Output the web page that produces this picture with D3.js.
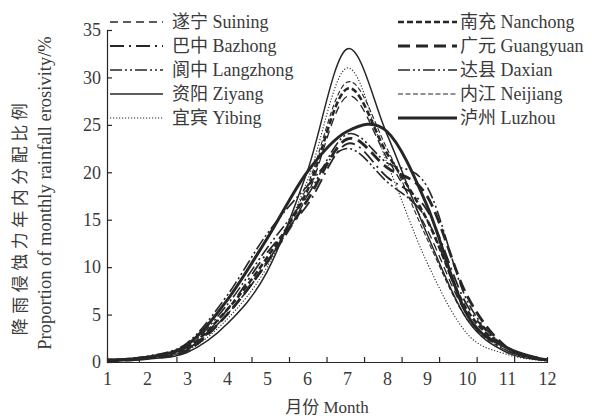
<!DOCTYPE html>
<html>
<head>
<meta charset="utf-8">
<script src="https://cdn.jsdelivr.net/npm/d3@7"></script>
<style>
  body { margin: 0; background: #fff; }
  text { font-family: "Liberation Serif", "Noto Sans CJK SC", serif; fill: #3a3a3a; }
</style>
</head>
<body>
<div id="chart"></div>
<script>
// monthly share of annual rainfall erosivity (%)
var months = [1, 2, 3, 4, 5, 6, 7, 8, 9, 10, 11, 12];
var yTicks = [0, 5, 10, 15, 20, 25, 30, 35];

var suining   = [0.2, 0.5, 1.5, 5.0, 10.5, 17.5, 28.0, 21.5, 14.0, 5.0, 1.5, 0.3];
var bazhong   = [0.1, 0.4, 1.3, 5.5, 11.5, 16.5, 23.0, 19.5, 16.0, 6.0, 1.5, 0.2];
var langzhong = [0.2, 0.6, 2.0, 7.0, 13.5, 18.5, 22.5, 19.0, 15.0, 5.0, 1.2, 0.2];
var ziyang    = [0.1, 0.3, 1.0, 4.0, 9.5, 20.0, 33.0, 24.0, 13.5, 4.5, 1.0, 0.2];
var yibing    = [0.1, 0.4, 1.2, 4.5, 10.0, 19.0, 31.0, 21.0, 10.5, 3.0, 0.8, 0.1];
var nanchong  = [0.2, 0.5, 1.5, 5.5, 11.0, 18.0, 28.8, 22.0, 15.0, 5.5, 1.5, 0.2];
var guangyuan = [0.1, 0.4, 1.2, 5.0, 10.5, 17.0, 23.5, 20.5, 17.5, 7.0, 1.5, 0.2];
var daxian    = [0.2, 0.5, 1.6, 6.0, 12.0, 17.5, 24.0, 21.0, 18.5, 6.5, 1.5, 0.2];
var neijiang  = [0.1, 0.4, 1.3, 5.0, 10.5, 18.5, 29.5, 22.5, 13.0, 4.5, 1.2, 0.2];
var luzhou    = [0.2, 0.5, 1.8, 6.5, 13.0, 20.0, 24.3, 24.3, 16.5, 5.0, 1.5, 0.2];

var stations = [
    { zh: '遂宁', en: 'Suining',   values: suining,   width: 1.3, dash: '8,5' },
    { zh: '巴中', en: 'Bazhong',   values: bazhong,   width: 1.8, dash: '14,5,2,5' },
    { zh: '阆中', en: 'Langzhong', values: langzhong, width: 1.6, dash: '12,3,2,3,2,3' },
    { zh: '资阳', en: 'Ziyang',    values: ziyang,    width: 1.5, dash: null },
    { zh: '宜宾', en: 'Yibing',    values: yibing,    width: 1.1, dash: '1.2,1.8' },
    { zh: '南充', en: 'Nanchong',  values: nanchong,  width: 2.6, dash: '6,3' },
    { zh: '广元', en: 'Guangyuan', values: guangyuan, width: 2.8, dash: '12,6' },
    { zh: '达县', en: 'Daxian',    values: daxian,    width: 1.6, dash: '12,3,2,3,2,3' },
    { zh: '内江', en: 'Neijiang',  values: neijiang,  width: 1.1, dash: '5,2.5' },
    { zh: '泸州', en: 'Luzhou',    values: luzhou,    width: 3.0, dash: null }
];

var width = 592, height = 419;
var svg = d3.select('#chart').append('svg')
    .attr('width', width).attr('height', height);

// scales
var x = d3.scaleLinear().domain([1, 12]).range([107, 547]);
var y = d3.scaleLinear().domain([0, 35]).range([362, 30]);
var xLine = x.copy().domain([x.invert(93), x.invert(562)]);

var ink = '#262626';

// x axis: ticks between months, labels on months
var halfMonths = months.slice(0, 11).map(function(m) { return m + 0.5; });
var gx = svg.append('g').attr('transform', 'translate(0,' + y(0) + ')')
    .call(d3.axisBottom(xLine).tickValues(halfMonths)
        .tickSizeInner(-5).tickSizeOuter(-5).tickFormat(''));
gx.selectAll('path, line').attr('stroke', ink).attr('stroke-width', 1.2);

var gxl = svg.append('g').attr('transform', 'translate(0,' + y(0) + ')')
    .call(d3.axisBottom(x).tickValues(months).tickSize(0).tickPadding(10));
gxl.select('.domain').remove();
gxl.selectAll('text').style('font-size', '18px')
    .style('font-family', '"Liberation Serif", serif').attr('fill', '#3a3a3a');

// y axis
var gy = svg.append('g').attr('transform', 'translate(' + xLine.range()[0] + ',0)')
    .call(d3.axisLeft(y).tickValues(yTicks)
        .tickSizeInner(-5).tickSizeOuter(-5).tickPadding(6));
gy.selectAll('path, line').attr('stroke', ink).attr('stroke-width', 1.2);
gy.selectAll('text').style('font-size', '18px')
    .style('font-family', '"Liberation Serif", serif').attr('fill', '#3a3a3a');

// axis titles
svg.append('text').attr('x', 327).attr('y', 413)
    .attr('text-anchor', 'middle').style('font-size', '17px')
    .text('月份 Month');

svg.append('text')
    .attr('transform', 'translate(26,217) rotate(-90)')
    .attr('text-anchor', 'middle').style('font-size', '17px')
    .style('letter-spacing', '4.5px')
    .text('降雨侵蚀力年内分配比例');

svg.append('text')
    .attr('transform', 'translate(51,193) rotate(-90)')
    .attr('text-anchor', 'middle').style('font-size', '18.5px')
    .text('Proportion of monthly rainfall erosivity/%');

// curves
var line = d3.line()
    .x(function(d, i) { return x(months[i]); })
    .y(function(d) { return y(d); })
    .curve(d3.curveCardinal.tension(0));

svg.selectAll('.station').data(stations).enter().append('path')
    .attr('class', 'station')
    .attr('d', function(d) { return line(d.values); })
    .attr('fill', 'none')
    .attr('stroke', ink)
    .attr('stroke-width', function(d) { return d.width; })
    .attr('stroke-dasharray', function(d) { return d.dash; });

// legend, two columns of five
var legend = svg.append('g');
var item = legend.selectAll('.item').data(stations).enter().append('g')
    .attr('class', 'item')
    .attr('transform', function(d, i) {
        var col = Math.floor(i / 5), row = i % 5;
        return 'translate(' + (col === 0 ? 110 : 398) + ',' + (22 + row * 24) + ')';
    });

item.append('line')
    .attr('x1', 0).attr('x2', function(d, i) { return i < 5 ? 53 : 59; })
    .attr('y1', 0).attr('y2', 0)
    .attr('stroke', ink)
    .attr('stroke-width', function(d) { return d.width; })
    .attr('stroke-dasharray', function(d) { return d.dash; });

item.append('text')
    .attr('x', 62)
    .attr('y', 6)
    .style('font-size', '18px')
    .text(function(d) { return d.zh + ' ' + d.en; });
</script>
</body>
</html>
